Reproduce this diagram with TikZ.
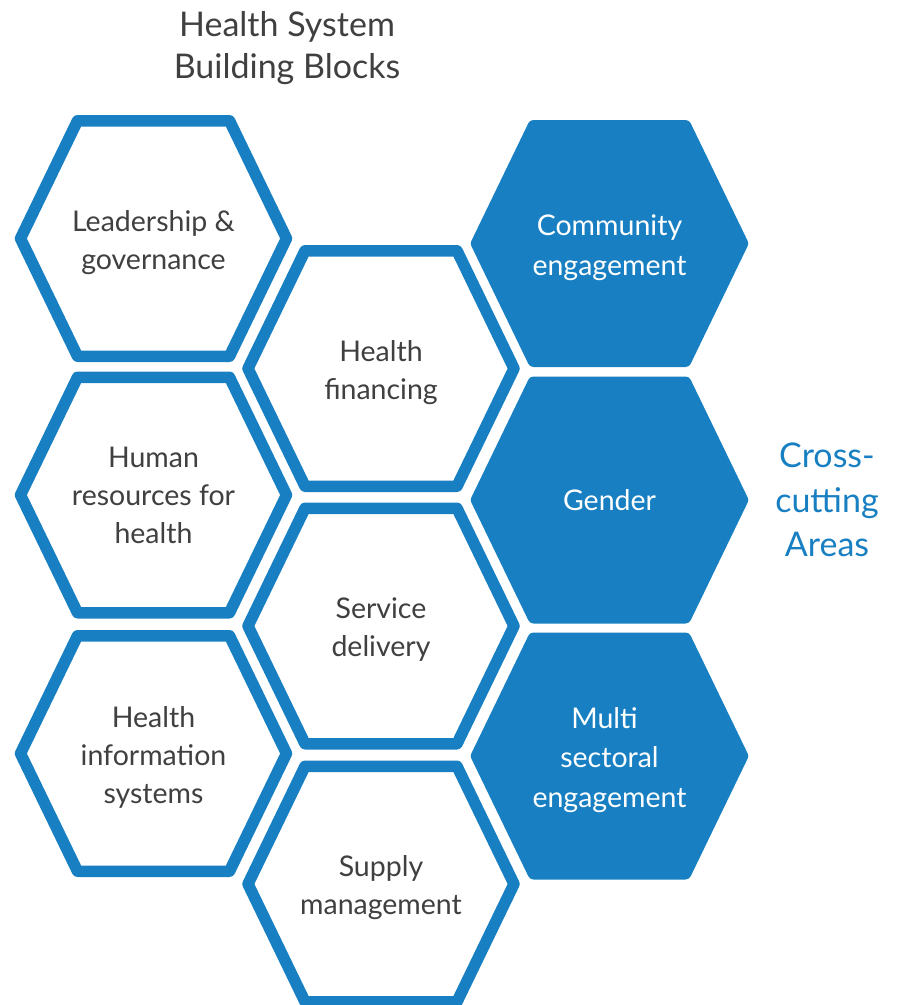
\documentclass[tikz,border=0pt]{standalone}
\usepackage{fontspec}
\setmainfont{Lato}
\definecolor{hexblue}{RGB}{24,128,194}
\definecolor{hexgray}{RGB}{64,64,64}
\newcommand{\hexat}[1]{(#1) ++(-133,0) -- ++(57,-117.75) -- ++(152,0) -- ++(57,117.75) -- ++(-57,117.75) -- ++(-152,0) -- cycle}
\begin{document}
\begin{tikzpicture}[x=1pt,y=-1pt,
  hexline/.style={draw=hexblue,line width=11.5pt,line join=round,fill=white},
  hexfill/.style={draw=hexblue,line width=11.5pt,line join=round,fill=hexblue},
  hextext/.style={align=center,text=hexgray,inner sep=0pt,font=\fontsize{28.5}{38}\selectfont},
  filltext/.style={align=center,text=white,inner sep=0pt,font=\fontsize{28.5}{39.5}\selectfont},
  lowered/.style={yshift=-4pt},
  titletext/.style={align=center,inner sep=0pt,font=\fontsize{34}{42}\selectfont}]
\useasboundingbox (0,0) rectangle (897,1005);
\clip (0,0) rectangle (897,1005);
% hexagon centres
\coordinate (c11) at (153.5,238.5);
\coordinate (c12) at (153.5,495);
\coordinate (c13) at (153.5,753.5);
\coordinate (c21) at (381,368.5);
\coordinate (c22) at (381,626);
\coordinate (c23) at (381,884);
\coordinate (c31) at (609.5,243.5);
\coordinate (c32) at (609.5,500);
\coordinate (c33) at (609.5,756);
% outlined hexagons
\foreach \c in {c11,c12,c13,c21,c22,c23}{\draw[hexline] \hexat{\c};}
% filled hexagons
\foreach \c in {c31,c32,c33}{\draw[hexfill] \hexat{\c};}
% texts
\node[hextext,lowered] (lead) at (c11) {Leadership \&\\governance};
\node[hextext] (hr) at (c12) {Human\\resources for\\health};
\node[hextext,lowered] (his) at (c13) {Health\\information\\systems};
\node[hextext,lowered] (fin) at (c21) {Health\\financing};
\node[hextext,lowered] (serv) at (c22) {Service\\delivery};
\node[hextext,lowered] (supp) at (c23) {Supply\\management};
\node[filltext,lowered] (comm) at (c31) {Community\\engagement};
\node[filltext] (gend) at (c32) {Gender};
\node[filltext,lowered] (multi) at (c33) {Multi\hspace*{0.35em}\\sectoral\\engagement};
\node[titletext,text=hexgray] (title) at (287,48.5) {Health System\\Building Blocks};
\node[titletext,text=hexblue,font=\fontsize{34}{44.5}\selectfont] (cross) at (827,500) {Cross-\\cutting\\Areas};
\end{tikzpicture}
\end{document}
